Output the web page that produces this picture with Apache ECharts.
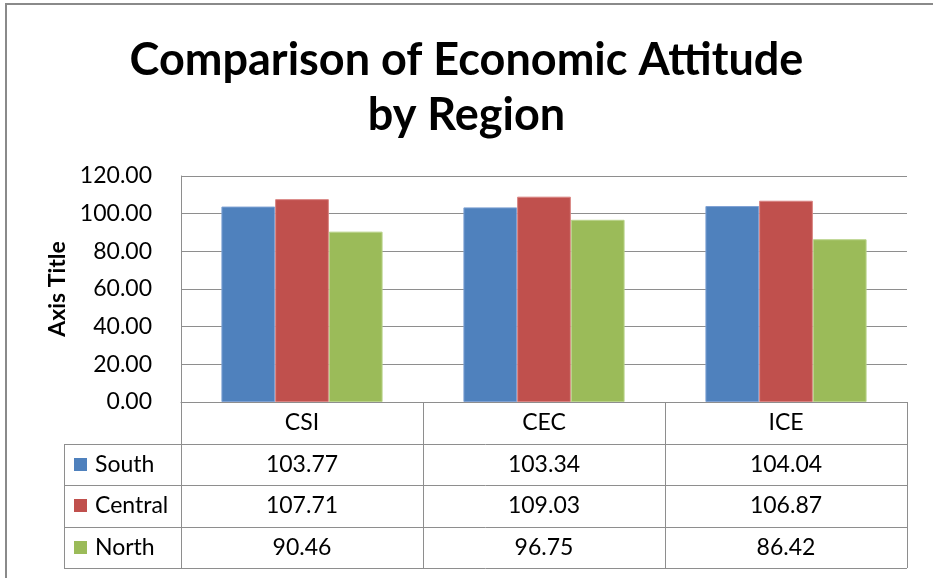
<!DOCTYPE html>
<html>
<head>
<meta charset="utf-8">
<script src="https://cdn.jsdelivr.net/npm/echarts@6/dist/echarts.min.js"></script>
<style>
  html, body { margin: 0; padding: 0; background: #fff; }
  #chart { width: 933px; height: 578px; }
</style>
</head>
<body>
<div id="chart"></div>
<script>
// Index categories and regional scores
const categories = ['CSI', 'CEC', 'ICE'];
const south = [103.77, 103.34, 104.04];
const central = [107.71, 109.03, 106.87];
const north = [90.46, 96.75, 86.42];
const seriesNames = ['South', 'Central', 'North'];
const seriesValues = [south, central, north];
const colors = ['#4F81BD', '#C0504D', '#9BBB59'];
const borders = ['#7EA1D3', '#D98381', '#B9D38A'];

const FONT = 'Lato';
const LABEL_SIZE = 23;
const GRID = { left: 181, top: 176, right: 26, bottom: 176 };
const ROW_H = 41.5;       // data table row height
const TABLE_LEFT = 64;    // left edge of the legend column
const LINE = '#8e8e8e';

const chart = echarts.init(document.getElementById('chart'), null, { renderer: 'canvas' });

const option = {
  animation: false,
  backgroundColor: '#fff',
  title: {
    text: 'Comparison of Economic Attitude\nby Region',
    left: 'center',
    top: 28,
    textStyle: { fontFamily: FONT, fontWeight: 'bold', fontSize: 45, lineHeight: 55, color: '#000' }
  },
  grid: GRID,
  xAxis: {
    type: 'category',
    data: categories,
    axisLine: { lineStyle: { color: LINE, width: 1 } },
    axisTick: { show: true, length: 166, lineStyle: { color: LINE, width: 1 } },
    axisLabel: { margin: 9, fontFamily: FONT, fontSize: LABEL_SIZE, color: '#000' },
    splitLine: { show: false }
  },
  yAxis: {
    type: 'value',
    min: 0, max: 120, interval: 20,
    name: 'Axis Title',
    nameLocation: 'middle',
    nameRotate: 90,
    nameGap: 110,
    nameTextStyle: { fontFamily: FONT, fontWeight: 'bold', fontSize: 23, color: '#000' },
    axisLine: { show: true, lineStyle: { color: LINE, width: 1 } },
    axisTick: { show: false },
    axisLabel: { margin: 29, fontFamily: FONT, fontSize: LABEL_SIZE, color: '#000',
                 formatter: v => v.toFixed(2) },
    splitLine: { lineStyle: { color: LINE, width: 1 } }
  },
  series: seriesNames.map((name, i) => ({
    name: name,
    type: 'bar',
    data: seriesValues[i],
    barGap: '0%',
    barCategoryGap: '33.4%',
    itemStyle: { color: colors[i], borderColor: borders[i], borderWidth: 1 }
  }))
};

chart.setOption(option);

// Data table under the plot, positioned from the axis scale
const W = 933, H = 578;
const plotLeft = GRID.left, plotRight = W - GRID.right, axisY = H - GRID.bottom;
const g = [];

// outer chart frame (top and left visible)
g.push({ type: 'rect', shape: { x: 6, y: 4, width: 1000, height: 1000 },
         style: { fill: null, stroke: '#8a8a8a', lineWidth: 2 }, silent: true });

// horizontal row lines
for (let r = 1; r <= 4; r++) {
  const y = Math.round(axisY + r * ROW_H) + 0.5;
  g.push({ type: 'line', shape: { x1: TABLE_LEFT, y1: y, x2: plotRight, y2: y },
           style: { stroke: LINE, lineWidth: 1 }, silent: true });
}
// left edge of the legend column
g.push({ type: 'line', shape: { x1: TABLE_LEFT + 0.5, y1: Math.round(axisY + ROW_H) + 0.5,
                                x2: TABLE_LEFT + 0.5, y2: Math.round(axisY + 4 * ROW_H) + 0.5 },
         style: { stroke: LINE, lineWidth: 1 }, silent: true });

seriesNames.forEach((name, i) => {
  const cy = axisY + (i + 1.5) * ROW_H;
  // legend key
  g.push({ type: 'rect', shape: { x: 74, y: Math.round(cy - 6.5), width: 13, height: 13 },
           style: { fill: colors[i] }, silent: true });
  g.push({ type: 'text', x: 95, y: cy,
           style: { text: name, fontFamily: FONT, fontSize: LABEL_SIZE, fill: '#000',
                    textAlign: 'left', textVerticalAlign: 'middle' }, silent: true });
  // values per category
  categories.forEach((c, j) => {
    const cx = chart.convertToPixel({ xAxisIndex: 0 }, c);
    g.push({ type: 'text', x: cx, y: cy,
             style: { text: seriesValues[i][j].toFixed(2), fontFamily: FONT, fontSize: LABEL_SIZE, fill: '#000',
                      textAlign: 'center', textVerticalAlign: 'middle' }, silent: true });
  });
});

chart.setOption({ graphic: { elements: g } });
</script>
</body>
</html>
